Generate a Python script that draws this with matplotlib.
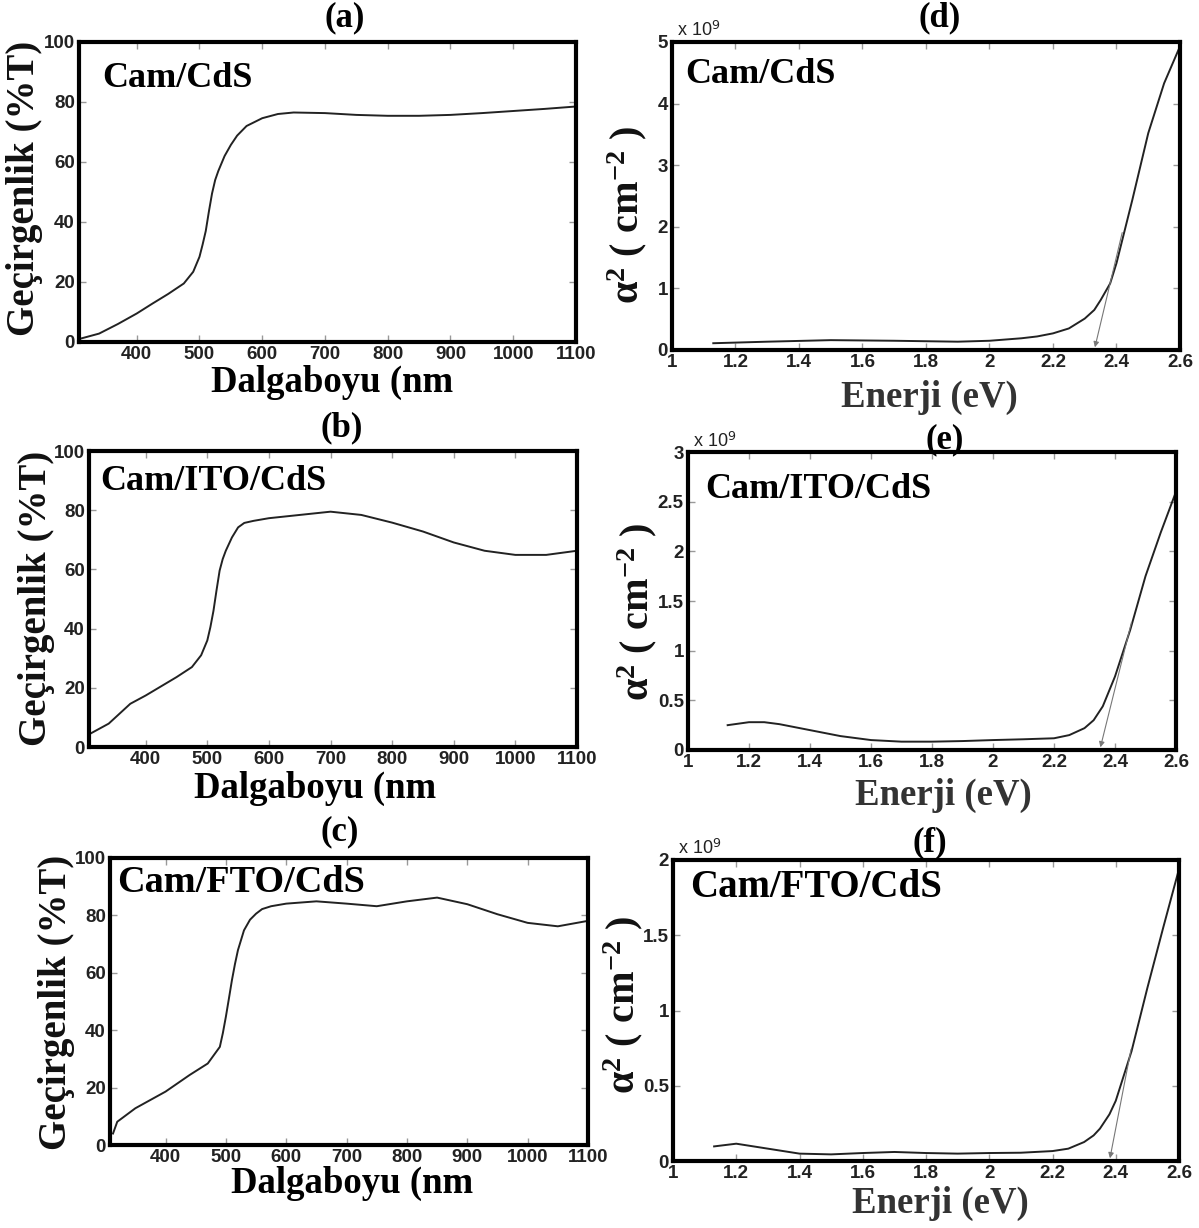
import matplotlib
matplotlib.use('Agg')
import matplotlib.pyplot as plt
import numpy as np

plt.rcParams['mathtext.fontset'] = 'custom'
plt.rcParams['mathtext.rm'] = 'Liberation Serif:bold'
plt.rcParams['mathtext.bf'] = 'Liberation Serif:bold'
plt.rcParams['mathtext.it'] = 'Liberation Serif:bold'

# --- veri ---
dalga_a = [310, 340, 370, 400, 425, 450, 475, 490, 500, 505, 510, 515, 520, 525, 530, 540, 550, 560, 575,
           600, 625, 650, 700, 750, 800, 850, 900, 950, 1000, 1050, 1100]
T_a = [1.1, 2.8, 6.0, 9.5, 12.8, 16.0, 19.5, 23.4, 28.4, 32.5, 37.0, 43.5, 49.5, 54.0, 57.0, 62.0, 65.7, 68.8, 72.0,
       74.6, 76.0, 76.5, 76.3, 75.7, 75.4, 75.4, 75.7, 76.3, 77.0, 77.7, 78.5]

dalga_b = [310, 340, 375, 400, 450, 475, 490, 500, 505, 510, 515, 520, 525, 530, 540, 550, 560, 575, 600,
           650, 700, 750, 800, 850, 900, 950, 1000, 1050, 1100]
T_b = [4.5, 7.9, 14.6, 17.4, 23.6, 27.0, 31.0, 36.0, 40.5, 46.0, 53.0, 59.6, 63.5, 66.3, 70.8, 74.2, 75.7, 76.4, 77.3,
       78.4, 79.5, 78.4, 75.8, 72.8, 69.1, 66.3, 64.9, 64.9, 66.3]

dalga_c = [313, 320, 350, 400, 440, 470, 490, 495, 500, 505, 510, 515, 520, 530, 540, 550, 560, 575, 600,
           650, 700, 750, 800, 850, 900, 950, 1000, 1050, 1100]
T_c = [4.0, 8.1, 12.8, 18.6, 24.4, 28.4, 34.2, 39.0, 44.7, 51.0, 57.4, 63.0, 67.9, 74.8, 78.5, 80.6, 82.2, 83.2, 84.1,
       84.9, 84.1, 83.2, 84.9, 86.2, 83.9, 80.4, 77.4, 76.2, 78.1]

enerji_d = [1.13, 1.3, 1.5, 1.7, 1.9, 2.0, 2.1, 2.15, 2.2, 2.25, 2.3, 2.33, 2.35, 2.38, 2.4, 2.45, 2.5, 2.55, 2.6]
alfa2_d = [0.11, 0.135, 0.16, 0.15, 0.135, 0.15, 0.19, 0.22, 0.27, 0.35, 0.51, 0.65, 0.81, 1.08, 1.41, 2.44,
           3.52, 4.33, 4.93]

enerji_e = [1.13, 1.2, 1.25, 1.3, 1.4, 1.5, 1.6, 1.7, 1.8, 1.9, 2.0, 2.1, 2.2, 2.25, 2.3, 2.33, 2.36,
            2.4, 2.45, 2.5, 2.55, 2.6]
alfa2_e = [0.25, 0.28, 0.28, 0.26, 0.20, 0.14, 0.10, 0.084, 0.084, 0.09, 0.10, 0.108, 0.118, 0.15, 0.22,
           0.30, 0.44, 0.74, 1.21, 1.75, 2.19, 2.6]

enerji_f = [1.13, 1.2, 1.3, 1.4, 1.5, 1.6, 1.7, 1.8, 1.9, 2.0, 2.1, 2.2, 2.25, 2.3, 2.33, 2.35, 2.38, 2.4,
            2.45, 2.5, 2.55, 2.6]
alfa2_f = [0.097, 0.115, 0.082, 0.049, 0.044, 0.053, 0.06, 0.053, 0.049, 0.053, 0.055, 0.066, 0.082,
           0.126, 0.17, 0.215, 0.31, 0.40, 0.73, 1.15, 1.55, 1.94]

# teget cizgiler: (baslangic E, baslangic alfa2, bant araligi Eg)
teget_d = [2.42, 1.95, 2.33]
teget_e = [2.456, 1.31, 2.35]
teget_f = [2.45, 0.76, 2.38]

etiketler = ['Cam/CdS', 'Cam/ITO/CdS', 'Cam/FTO/CdS']

serif = 'Liberation Serif'
sans = 'Liberation Sans'

W, H = 1199, 1228
fig = plt.figure(figsize=(W / 100, H / 100), dpi=100)


def eksen(px):
    x0, y0, x1, y1 = px
    return fig.add_axes([x0 / W, 1 - y1 / H, (x1 - x0) / W, (y1 - y0) / H])


def stil(ax):
    for s in ax.spines.values():
        s.set_linewidth(3)
        s.set_color('black')
    ax.tick_params(direction='in', top=True, right=True, length=5, width=1, color='#999999',
                   labelsize=13.5, pad=3)
    for lab in ax.get_xticklabels() + ax.get_yticklabels():
        lab.set_fontfamily(sans)
        lab.set_fontweight('bold')
        lab.set_color('#222222')


def ftext(x, y, s, **kw):
    fig.text(x / W, 1 - y / H, s, fontfamily=serif, fontweight='bold', ha='center', va='center', **kw)


# --- sol sutun: gecirgenlik ---
sol = [(79, 42, 576, 342), (89, 451, 577, 747), (110, 858, 588, 1145)]
sol_veri = [(dalga_a, T_a), (dalga_b, T_b), (dalga_c, T_c)]
sol_yazi = [(0.046, 0.85, 26), (0.0225, 0.868, 26), (0.015, 0.881, 27.5)]
for i, (px, (x, y), (tx, ty, fs)) in enumerate(zip(sol, sol_veri, sol_yazi)):
    ax = eksen(px)
    ax.plot(x, y, color='#222222', lw=1.4)
    ax.set_xlim(308, 1100)
    ax.set_ylim(0, 100)
    ax.set_xticks(range(400, 1101, 100))
    ax.set_yticks(range(0, 101, 20))
    stil(ax)
    ax.text(tx, ty, etiketler[i], transform=ax.transAxes, fontfamily=serif, fontweight='bold',
            fontsize=fs, va='baseline', ha='left')

ftext(345, 18, '(a)', fontsize=25)
ftext(342, 428, '(b)', fontsize=25)
ftext(340, 832, '(c)', fontsize=25)
ftext(332, 382, 'Dalgaboyu (nm', fontsize=26.5)
ftext(315, 788, 'Dalgaboyu (nm', fontsize=26.5)
ftext(352, 1183, 'Dalgaboyu (nm', fontsize=26.5)
ftext(25, 188, 'Geçirgenlik (%T)', fontsize=28, rotation=90, color='#111111')
ftext(37, 598, 'Geçirgenlik (%T)', fontsize=28, rotation=90, color='#111111')
ftext(57, 1002, 'Geçirgenlik (%T)', fontsize=28, rotation=90, color='#111111')

# --- sag sutun: alfa^2 ---
sag = [(672, 42, 1180, 350), (688, 452, 1176, 750), (673, 860, 1179, 1161)]
sag_veri = [(enerji_d, alfa2_d), (enerji_e, alfa2_e), (enerji_f, alfa2_f)]
sag_ylim = [5, 3, 2]
sag_ytick = [np.arange(0, 5.1, 1), np.arange(0, 3.01, 0.5), np.arange(0, 2.01, 0.5)]
tegetler = [teget_d, teget_e, teget_f]
sag_yazi = [(0.026, 0.867, 26), (0.035, 0.846, 26), (0.034, 0.877, 28)]
for i, px in enumerate(sag):
    ax = eksen(px)
    x, y = sag_veri[i]
    ax.plot(x, y, color='#222222', lw=1.4)
    e0, a0, eg = tegetler[i]
    ax.annotate('', xy=(eg, 0.0), xytext=(e0, a0),
                arrowprops=dict(arrowstyle='-|>', color='#777777', lw=0.8, mutation_scale=8))
    ax.set_xlim(1, 2.6)
    ax.set_ylim(0, sag_ylim[i])
    ax.set_xticks(np.arange(1, 2.61, 0.2))
    ax.set_yticks(sag_ytick[i])
    ax.xaxis.set_major_formatter(matplotlib.ticker.FormatStrFormatter('%g'))
    ax.yaxis.set_major_formatter(matplotlib.ticker.FormatStrFormatter('%g'))
    stil(ax)
    ax.text(0.01, 1.005, 'x 10$^{\\mathsf{9}}$', transform=ax.transAxes, fontfamily=sans, fontsize=13,
            va='bottom', ha='left', color='#222222')
    tx, ty, fs = sag_yazi[i]
    ax.text(tx, ty, etiketler[i], transform=ax.transAxes, fontfamily=serif, fontweight='bold',
            fontsize=fs, va='baseline', ha='left')

ftext(940, 18, '(d)', fontsize=25)
ftext(945, 440, '(e)', fontsize=25)
ftext(930, 843, '(f)', fontsize=25)
ftext(929, 397, 'Enerji (eV)', fontsize=26.5, color='#333333')
ftext(943, 795, 'Enerji (eV)', fontsize=26.5, color='#333333')
ftext(940, 1203, 'Enerji (eV)', fontsize=26.5, color='#333333')
alfa_lbl = 'α$^{2}$ ( cm$^{-2}$ )'
ftext(627, 215, alfa_lbl, fontsize=29, rotation=90, color='#111111')
ftext(637, 612, alfa_lbl, fontsize=29, rotation=90, color='#111111')
ftext(623, 1005, alfa_lbl, fontsize=29, rotation=90, color='#111111')

fig.savefig('out.png', dpi=100)
